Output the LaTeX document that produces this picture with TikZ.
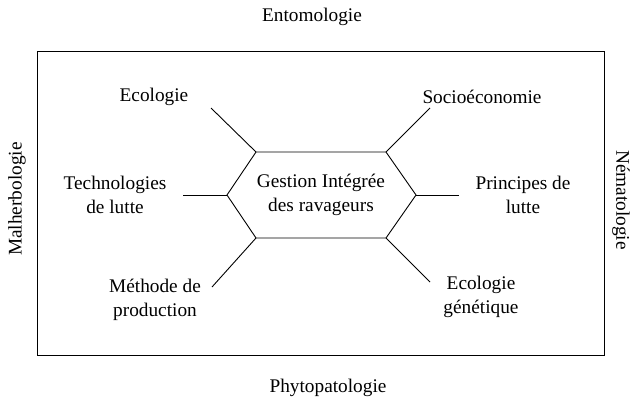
\documentclass[tikz,border=0pt]{standalone}
\usepackage{fontspec}
\setmainfont{Liberation Serif}
\usetikzlibrary{positioning}

\tikzset{
  label/.style={font=\fontsize{19.3}{24}\selectfont, align=center, inner sep=0pt},
  spoke/.style={line width=0.9pt}
}

\begin{document}
\begin{tikzpicture}[x=1pt, y=-1pt, line width=0.9pt]
    \useasboundingbox (0,0) rectangle (631,400);

    % 1. Frame and the four disciplines round it
    \draw (37,51) rectangle (604,355);
    \node[label] (ento) at (312,17) {Entomologie};
    \node[label] (phyto) at (328,388) {Phytopatologie};
    \node[label, rotate=90] (malh) at (17,199) {Malherbologie};
    \node[label, rotate=-90] (nema) at (621,200) {Nématologie};

    % 2. Central hexagon
    \coordinate (hTL) at (256,152);
    \coordinate (hTR) at (386,152);
    \coordinate (hR) at (416,195);
    \coordinate (hBR) at (386,238);
    \coordinate (hBL) at (256,238);
    \coordinate (hL) at (227,195);
    \draw (hTL) -- (hTR) -- (hR) -- (hBR) -- (hBL) -- (hL) -- cycle;
    \node[label] (gir) at (321,195) {Gestion Intégrée\\des ravageurs};

    % 3. Surrounding labels
    \node[label] (eco) at (154,97) {Ecologie};
    \node[label] (socio) at (482,97) {Socioéconomie};
    \node[label] (tech) at (115,195) {Technologies\\de lutte};
    \node[label] (princ) at (523,195) {Principes de\\lutte};
    \node[label] (meth) at (155,300) {Méthode de\\production};
    \node[label] (ecogen) at (481,297) {Ecologie\\génétique};

    % 4. Spokes from the hexagon corners
    \coordinate (eEco) at (211,108);
    \coordinate (eSocio) at (430,108);
    \coordinate (eTech) at (183,195);
    \coordinate (ePrinc) at (459,195);
    \coordinate (eMeth) at (212,287);
    \coordinate (eEcogen) at (430,282);
    \draw[spoke] (hTL) -- (eEco);
    \draw[spoke] (hTR) -- (eSocio);
    \draw[spoke] (hL) -- (eTech);
    \draw[spoke] (hR) -- (ePrinc);
    \draw[spoke] (hBL) -- (eMeth);
    \draw[spoke] (hBR) -- (eEcogen);
\end{tikzpicture}
\end{document}
